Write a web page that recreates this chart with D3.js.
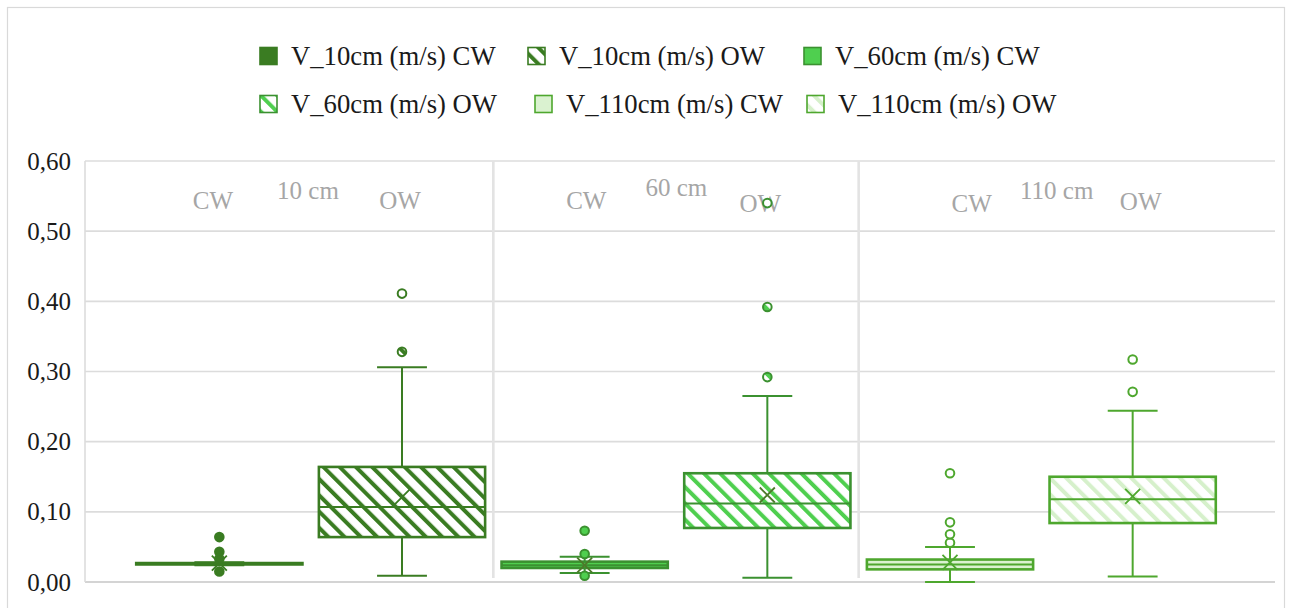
<!DOCTYPE html>
<html>
<head>
<meta charset="utf-8">
<script src="https://cdn.jsdelivr.net/npm/d3@7"></script>
<style>
  html, body { margin: 0; padding: 0; background: #ffffff; }
  svg { display: block; }
</style>
</head>
<body>
<svg id="chart" width="1292" height="608"></svg>
<script>
// Measurement depths and wall types
const groups = ["10 cm", "60 cm", "110 cm"];
const walls = ["CW", "OW"];
const seriesNames = [
  "V_10cm (m/s) CW", "V_10cm (m/s) OW",
  "V_60cm (m/s) CW", "V_60cm (m/s) OW",
  "V_110cm (m/s) CW", "V_110cm (m/s) OW"
];
const seriesGroup = ["10 cm", "10 cm", "60 cm", "60 cm", "110 cm", "110 cm"];
const seriesWall = ["CW", "OW", "CW", "OW", "CW", "OW"];

// Five-number summaries (m/s)
const whiskerLow  = [0.024, 0.009, 0.013, 0.006, 0.000, 0.008];
const q1Values    = [0.025, 0.064, 0.020, 0.077, 0.018, 0.084];
const medians     = [0.026, 0.107, 0.024, 0.112, 0.025, 0.118];
const q3Values    = [0.027, 0.164, 0.029, 0.155, 0.032, 0.150];
const whiskerHigh = [0.028, 0.306, 0.036, 0.265, 0.050, 0.244];
const means       = [0.027, 0.121, 0.024, 0.124, 0.028, 0.122];
const outliers = [
  [0.064, 0.043, 0.033, 0.015],
  [0.328, 0.411],
  [0.073, 0.040, 0.009],
  [0.292, 0.392, 0.540],
  [0.056, 0.068, 0.085, 0.155],
  [0.271, 0.317]
];

const yTicks = [0, 0.1, 0.2, 0.3, 0.4, 0.5, 0.6];

// Colours per depth
const depthFill   = { "10 cm": "#3A7C22", "60 cm": "#4FCF4F", "110 cm": "#DAF2D0" };
const depthStroke = { "10 cm": "#3A7C22", "60 cm": "#3B9130", "110 cm": "#4EA72E" };
const depthStripe = { "10 cm": "#3A7C22", "60 cm": "#4FCF4F", "110 cm": "#D6F0CB" };

const svg = d3.select("#chart");
const W = 1292, H = 608;
const plot = { left: 85, right: 1275, top: 161, bottom: 582 };

// chart frame
svg.append("rect")
  .attr("x", 7.5).attr("y", 7.5)
  .attr("width", W - 15).attr("height", H + 10)
  .attr("fill", "#ffffff").attr("stroke", "#d9d9d9").attr("stroke-width", 1.2);

// diagonal stripe patterns for the OW series
const defs = svg.append("defs");
groups.forEach((g, i) => {
  const p = defs.append("pattern")
    .attr("id", "stripe" + i)
    .attr("patternUnits", "userSpaceOnUse")
    .attr("width", 11.5).attr("height", 11.5)
    .attr("patternTransform", "rotate(-45)");
  p.append("rect").attr("width", 11.5).attr("height", 11.5).attr("fill", "#ffffff");
  p.append("rect").attr("x", 0).attr("y", 0).attr("width", 4).attr("height", 11.5)
    .attr("fill", depthStripe[g]);
});
const fillFor = (i) => seriesWall[i] === "OW"
  ? `url(#stripe${groups.indexOf(seriesGroup[i])})`
  : depthFill[seriesGroup[i]];

// scales
const x = d3.scaleBand().domain(groups).range([128, 1224]).padding(0);
const xInner = d3.scalePoint().domain(walls).range([0, x.bandwidth()]).padding(0.5);
const boxW = x.bandwidth() * 0.455;
const capW = boxW * 0.3;
const y = d3.scaleLinear().domain([0, 0.6]).range([plot.bottom, plot.top]);

// horizontal gridlines
svg.append("g").selectAll("line").data(yTicks).join("line")
  .attr("x1", plot.left).attr("x2", plot.right)
  .attr("y1", d => y(d)).attr("y2", d => y(d))
  .attr("stroke", d => d === 0 ? "#d4d4d4" : "#dcdcdc")
  .attr("stroke-width", d => d === 0 ? 2.2 : 1.6);

// left border of plot area and separators between depths
svg.append("line")
  .attr("x1", plot.left).attr("x2", plot.left)
  .attr("y1", plot.top).attr("y2", plot.bottom)
  .attr("stroke", "#dcdcdc").attr("stroke-width", 1.6);
svg.append("g").selectAll("line").data(groups.slice(1)).join("line")
  .attr("x1", d => x(d)).attr("x2", d => x(d))
  .attr("y1", plot.top).attr("y2", plot.bottom - 4)
  .attr("stroke", "#e3e3e3").attr("stroke-width", 2.6);

// y axis
const yAxis = d3.axisLeft(y).tickValues(yTicks).tickSize(0).tickPadding(14)
  .tickFormat(d => d3.format(".2f")(d).replace(".", ","));
const yg = svg.append("g").attr("transform", `translate(${plot.left},0)`).call(yAxis);
yg.select(".domain").remove();
yg.selectAll("text")
  .attr("font-family", "'Liberation Serif', 'Times New Roman', serif")
  .attr("font-size", 25).attr("fill", "#1a1a1a");

// depth and wall-type captions inside the plot
const captionLayout = {
  "10 cm":  { cw: [85, 200],  title: [180, 190], ow: [272, 200] },
  "60 cm":  { cw: [93, 200],  title: [183, 187], ow: [267, 203] },
  "110 cm": { cw: [113, 203], title: [198, 190], ow: [282, 201] }
};
const captions = svg.append("g")
  .attr("font-family", "'Liberation Serif', 'Times New Roman', serif")
  .attr("font-size", 25).attr("fill", "#a6a6a6")
  .attr("text-anchor", "middle").attr("dominant-baseline", "central");
groups.forEach(g => {
  const L = captionLayout[g];
  captions.append("text").attr("x", x(g) + L.cw[0]).attr("y", L.cw[1]).text("CW");
  captions.append("text").attr("x", x(g) + L.title[0]).attr("y", L.title[1]).text(g);
  captions.append("text").attr("x", x(g) + L.ow[0]).attr("y", L.ow[1]).text("OW");
});

// box plots
const boxes = svg.append("g");
seriesNames.forEach((name, i) => {
  const g = seriesGroup[i];
  const cx = x(g) + xInner(seriesWall[i]);
  const stroke = depthStroke[g];
  const b = boxes.append("g");

  // whiskers
  b.append("line").attr("x1", cx).attr("x2", cx)
    .attr("y1", y(q3Values[i])).attr("y2", y(whiskerHigh[i]))
    .attr("stroke", stroke).attr("stroke-width", 2);
  b.append("line").attr("x1", cx).attr("x2", cx)
    .attr("y1", y(q1Values[i])).attr("y2", y(whiskerLow[i]))
    .attr("stroke", stroke).attr("stroke-width", 2);

  // box
  b.append("rect")
    .attr("x", cx - boxW / 2).attr("width", boxW)
    .attr("y", y(q3Values[i])).attr("height", Math.max(0, y(q1Values[i]) - y(q3Values[i])))
    .attr("fill", fillFor(i)).attr("stroke", stroke).attr("stroke-width", 2.6);

  // median
  b.append("line")
    .attr("x1", cx - boxW / 2).attr("x2", cx + boxW / 2)
    .attr("y1", y(medians[i])).attr("y2", y(medians[i]))
    .attr("stroke", stroke).attr("stroke-width", 2);

  // whisker caps
  [whiskerLow[i], whiskerHigh[i]].forEach(v => {
    b.append("line")
      .attr("x1", cx - capW / 2).attr("x2", cx + capW / 2)
      .attr("y1", y(v)).attr("y2", y(v))
      .attr("stroke", stroke).attr("stroke-width", 2);
  });

  // mean marker
  const m = y(means[i]), s = 7.5;
  b.append("path")
    .attr("d", `M${cx - s},${m - s}L${cx + s},${m + s}M${cx - s},${m + s}L${cx + s},${m - s}`)
    .attr("stroke", g === "60 cm" ? "#4d7a2a" : stroke).attr("stroke-width", 1.8)
    .attr("fill", "none");

  // outliers
  const dotFill = g === "110 cm" ? "#ffffff"
    : (seriesWall[i] === "OW" ? fillFor(i) : depthFill[g]);
  b.selectAll("circle").data(outliers[i]).join("circle")
    .attr("cx", cx).attr("cy", d => y(d)).attr("r", 4.3)
    .attr("fill", dotFill).attr("stroke", stroke).attr("stroke-width", 2);
});

// legend
const legendPos = [[259, 56], [527, 56], [803, 56], [259, 104], [534, 104], [806, 104]];
const legend = svg.append("g");
seriesNames.forEach((name, i) => {
  const [lx, ly] = legendPos[i];
  const g = seriesGroup[i];
  legend.append("rect")
    .attr("x", lx + 1).attr("y", ly - 8.5).attr("width", 17).attr("height", 17)
    .attr("fill", fillFor(i)).attr("stroke", depthStroke[g]).attr("stroke-width", 1.6);
  legend.append("text")
    .attr("x", lx + 32).attr("y", ly)
    .attr("dominant-baseline", "central")
    .attr("font-family", "'Liberation Serif', 'Times New Roman', serif")
    .attr("font-size", 26.7).attr("fill", "#1a1a1a")
    .text(name);
});
</script>
</body>
</html>
